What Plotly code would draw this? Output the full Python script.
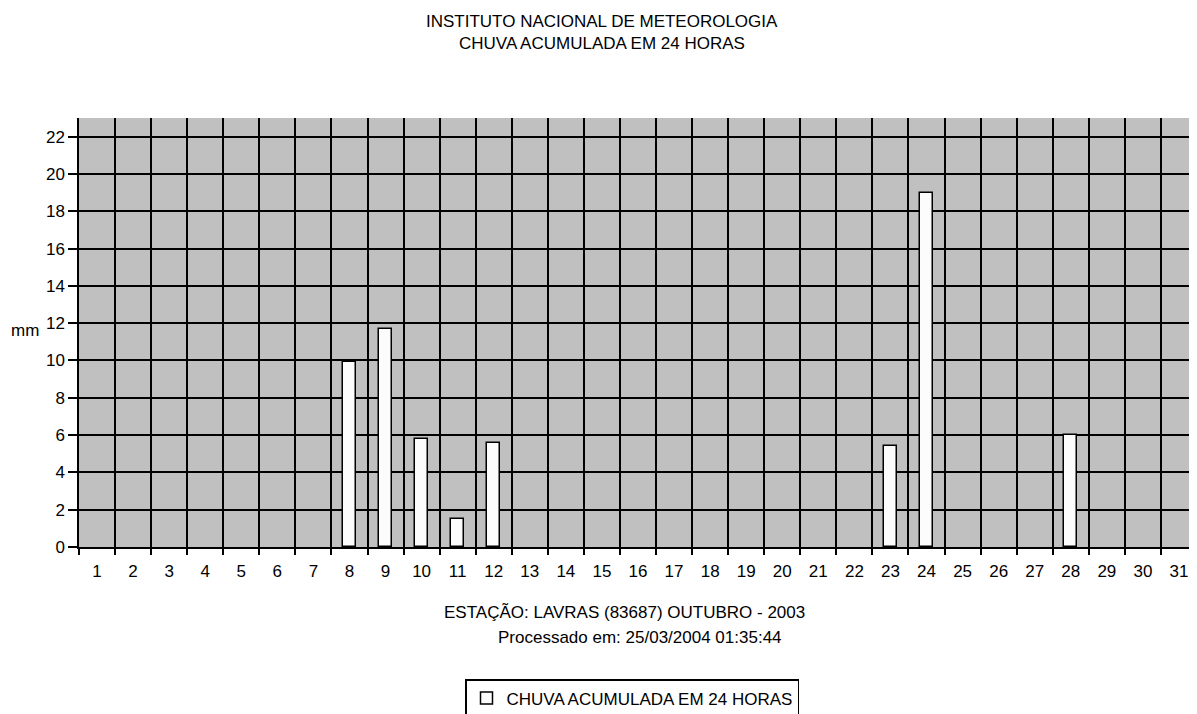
import plotly.graph_objects as go

days = list(range(1, 32))
rain_mm = [0, 0, 0, 0, 0, 0, 0, 9.9, 11.7, 5.8, 1.5, 5.6, 0, 0, 0, 0, 0, 0, 0, 0, 0, 0,
           5.4, 19.0, 0, 0, 0, 6.0, 0, 0, 0]
y_ticks = list(range(0, 23, 2))
title_lines = ["INSTITUTO NACIONAL DE METEOROLOGIA", "CHUVA ACUMULADA EM 24 HORAS"]
xlabel_lines = ["ESTAÇÃO: LAVRAS (83687) OUTUBRO - 2003", "Processado em: 25/03/2004 01:35:44"]
series_name = "CHUVA ACUMULADA EM 24 HORAS"

FONT = "Liberation Sans, Arial, sans-serif"
OFF = 8  # page body margin in the browser
W, H = 1197 - OFF, 714 - OFF
# plot area in screen pixels: left 79, top 118, bottom 547, right 1197
L = 79 - OFF
T = 118 - OFF
B = 714 - 547
PW, PH = W - L, H - T - B


def px_x(x):
    return (x - OFF - L) / PW


def px_y(y):
    return (H - B - (y - OFF)) / PH


xs = [d for d, v in zip(days, rain_mm) if v > 0]
ys = [v for v in rain_mm if v > 0]
x_range = [0.5, 31.5]
boundaries = [d + 0.5 for d in range(0, 31)]

fig = go.Figure()
fig.add_trace(go.Bar(
    x=xs, y=ys, name=series_name, width=0.36,
    marker=dict(color="#FCFCFC", line=dict(color="black", width=1.5)),
    showlegend=True,
))
# invisible companion trace so the label axis (x2) is drawn
fig.add_trace(go.Scatter(
    x=days, y=rain_mm, xaxis="x2", yaxis="y", mode="markers",
    marker=dict(opacity=0), showlegend=False, hoverinfo="skip",
))

fig.update_layout(
    width=W, height=H,
    margin=dict(l=L, r=0, t=T, b=B, autoexpand=False),
    paper_bgcolor="white", plot_bgcolor="#C0C0C0",
    font=dict(family=FONT, size=16, color="black"),
    showlegend=True,
    legend=dict(x=px_x(465), xanchor="left", y=px_y(679), yanchor="top",
                orientation="h", bordercolor="black", borderwidth=1.5,
                bgcolor="white", font=dict(size=17, family=FONT),
                itemwidth=30),
    # category boundaries: gridlines + tick marks
    xaxis=dict(
        range=x_range, tickmode="array", tickvals=boundaries,
        showticklabels=False, showgrid=True, gridcolor="black", gridwidth=1.5,
        ticks="outside", ticklen=6, tickcolor="black", tickwidth=1.5,
        showline=True, linecolor="black", linewidth=1.5, zeroline=False,
        automargin=False,
    ),
    # day labels centred in each category
    xaxis2=dict(
        range=x_range, overlaying="x", anchor="y", side="bottom",
        tickmode="array", tickvals=days, ticktext=[str(d) for d in days],
        showgrid=False, ticks="", ticklabelstandoff=12, showline=False,
        zeroline=False, automargin=False, tickfont=dict(size=17),
    ),
    yaxis=dict(
        range=[0, 23], tickmode="array", tickvals=y_ticks,
        showgrid=True, gridcolor="black", gridwidth=1.5,
        ticks="outside", ticklen=9, tickcolor="black", tickwidth=1.5,
        showline=True, linecolor="black", linewidth=1.5, zeroline=False,
        automargin=False,
        tickfont=dict(size=17),
    ),
    bargap=0,
)

fig.add_annotation(text=title_lines[0], xref="paper", yref="paper", x=px_x(602), y=px_y(21),
                   yanchor="middle", showarrow=False, font=dict(size=17))
fig.add_annotation(text=title_lines[1], xref="paper", yref="paper", x=px_x(602), y=px_y(43),
                   yanchor="middle", showarrow=False, font=dict(size=17))
fig.add_annotation(text=xlabel_lines[0], xref="paper", yref="paper", x=px_x(624), y=px_y(612),
                   yanchor="middle", showarrow=False, font=dict(size=17))
fig.add_annotation(text=xlabel_lines[1], xref="paper", yref="paper", x=px_x(640), y=px_y(637),
                   yanchor="middle", showarrow=False, font=dict(size=17))
fig.add_annotation(text="mm", xref="paper", yref="paper", x=px_x(25), y=px_y(330),
                   xanchor="center", yanchor="middle", showarrow=False, font=dict(size=17))

fig.write_html("out.html")
